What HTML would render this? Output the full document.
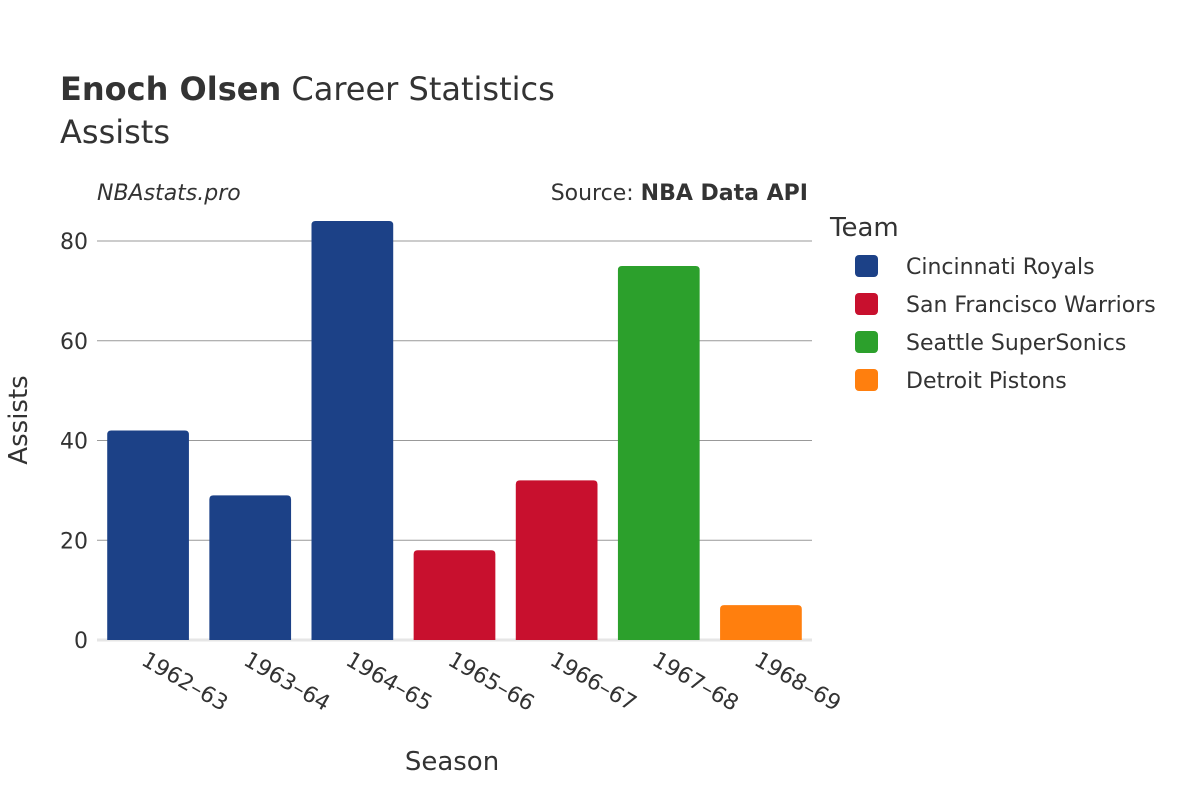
<!DOCTYPE html>
<html><head><meta charset="utf-8"><style>
body{margin:0;background:#fff;}
svg{font-family:"DejaVu Sans","Liberation Sans",sans-serif;}
</style></head><body>
<svg id="chart" width="1200" height="800" viewBox="0 0 1200 800">
<rect width="1200" height="800" fill="#fff"/>
<text x="60" y="100" font-size="32" fill="#333"><tspan font-weight="bold">Enoch Olsen</tspan> Career Statistics</text>
<text x="60" y="143" font-size="32" fill="#333">Assists</text>
<text x="97" y="200" font-size="22" font-style="italic" fill="#333">NBAstats.pro</text>
<text x="808" y="200" font-size="22" text-anchor="end" fill="#333">Source: <tspan font-weight="bold">NBA Data API</tspan></text>
<g id="grid"></g>
<g id="bars"></g>
<g id="xlabels"></g>
<text x="452" y="770" font-size="26" text-anchor="middle" fill="#333">Season</text>
<text transform="translate(27,420) rotate(-90)" font-size="26" text-anchor="middle" fill="#333">Assists</text>
<text x="830" y="236" font-size="26" fill="#333">Team</text>
<g id="legend"></g>
</svg>
<script>
const seasons=["1962–63","1963–64","1964–65","1965–66","1966–67","1967–68","1968–69"];
const assists=[42,29,84,18,32,75,7];
const teams=["Cincinnati Royals","Cincinnati Royals","Cincinnati Royals","San Francisco Warriors","San Francisco Warriors","Seattle SuperSonics","Detroit Pistons"];
const legendTeams=["Cincinnati Royals","San Francisco Warriors","Seattle SuperSonics","Detroit Pistons"];
const teamColors=["#1c4187","#c8102e","#2ca02c","#ff7f0e"];
const yTicks=[0,20,40,60,80];
const NS="http://www.w3.org/2000/svg";
const x0=97,x1=812,y0=640,yTop=241,yMaxV=80;
const band=(x1-x0)/seasons.length;
const xs=i=>x0+band*(i+0.5);
const ys=v=>y0-(v/yMaxV)*(y0-yTop);
function mk(t,a){const e=document.createElementNS(NS,t);for(const k in a)e.setAttribute(k,a[k]);return e;}
const grid=document.getElementById('grid');
yTicks.forEach(t=>{
 const l=mk('line',{x1:x0,x2:x1,y1:ys(t),y2:ys(t),stroke:t===0?'#e6e6e6':'#999','stroke-width':t===0?3:1});
 
 
 grid.appendChild(l);
 const tx=mk('text',{x:88,y:ys(t)+8,'font-size':22,'text-anchor':'end',fill:'#333'});
 tx.textContent=t;
 
 
 grid.appendChild(tx);
});
const bars=document.getElementById('bars'),xl=document.getElementById('xlabels');
const bw=band*0.8,r=4;
seasons.forEach((s,i)=>{
 const cx=xs(i),top=ys(assists[i]),l=cx-bw/2,rr=l+bw;
 const col=teamColors[legendTeams.indexOf(teams[i])];
 const p=mk('path',{d:`M${l},${y0}V${top+r}Q${l},${top} ${l+r},${top}H${rr-r}Q${rr},${top} ${rr},${top+r}V${y0}Z`,fill:col});
 
 
 bars.appendChild(p);
 const t=mk('text',{transform:`translate(${cx-8},${y0+24}) rotate(30)`,'font-size':22,fill:'#333'});
 t.textContent=s;
 
 
 xl.appendChild(t);
});
const lg=document.getElementById('legend');
legendTeams.forEach((n,i)=>{
 const y=266+i*38;
 const g=mk('g',{});
 
 
 g.appendChild(mk('rect',{x:855,y:y-11,width:23,height:22,rx:4,fill:teamColors[i]}));
 const t=mk('text',{x:906,y:y+8,'font-size':22,fill:'#333'});
 t.textContent=n;
 g.appendChild(t);
 lg.appendChild(g);
});
</script>
</body></html>
